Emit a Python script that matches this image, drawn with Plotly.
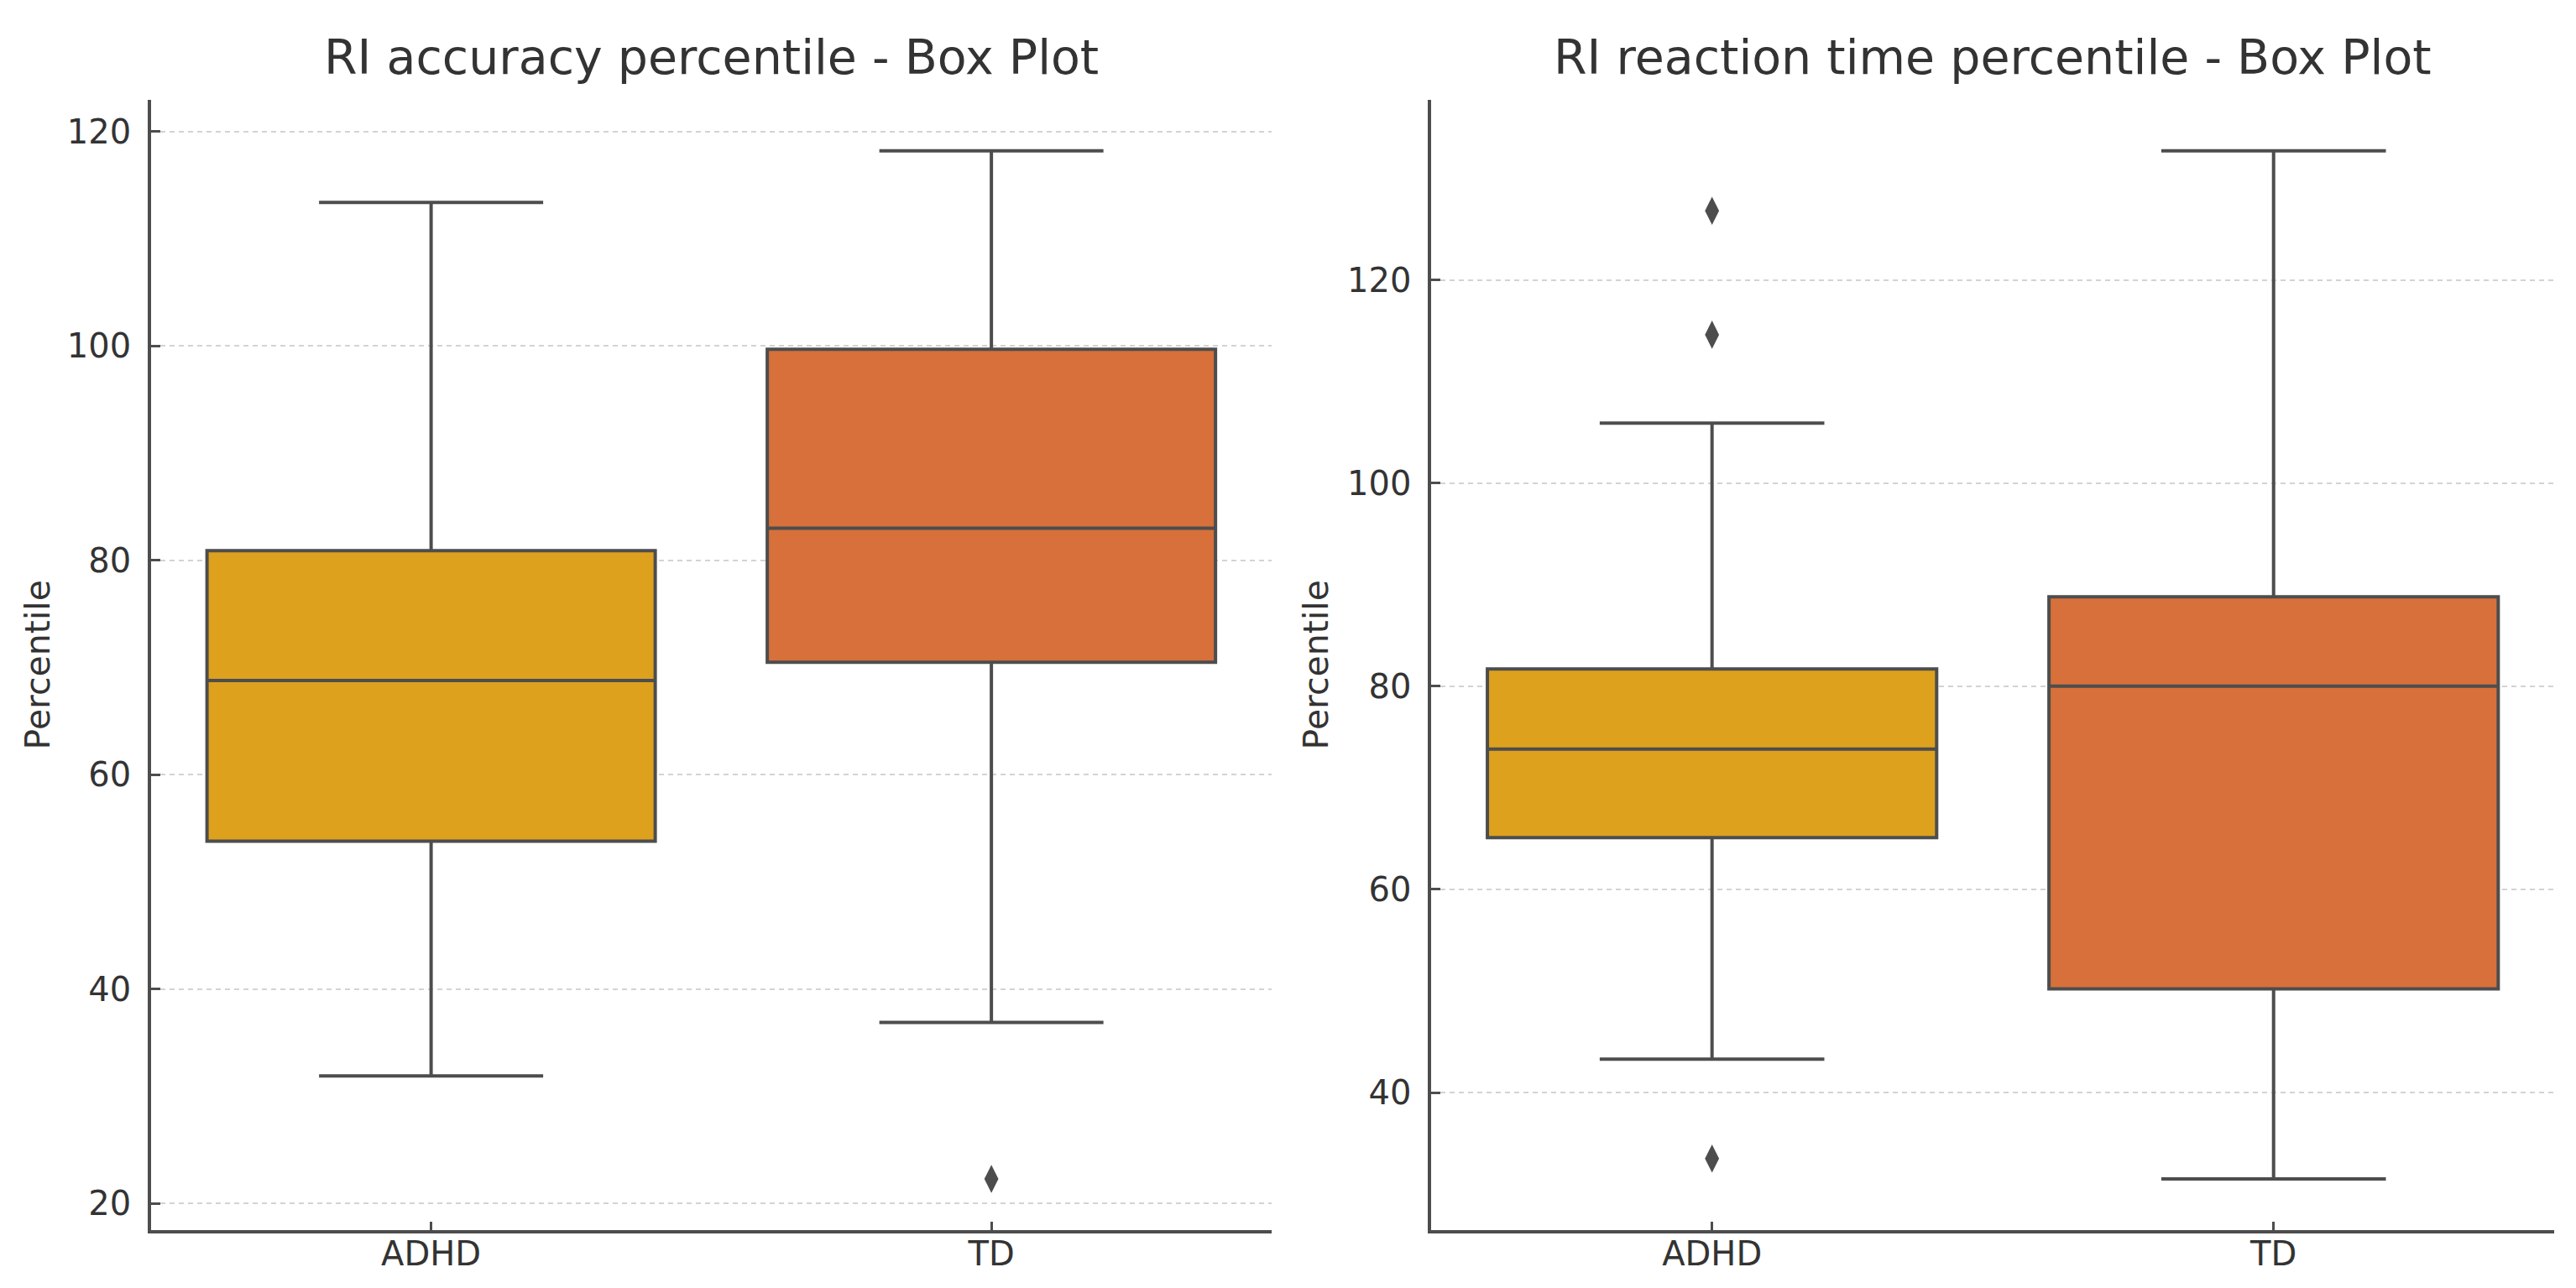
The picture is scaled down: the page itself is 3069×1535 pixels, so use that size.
import plotly.graph_objects as go

# groups on the x axis
groups = ["ADHD", "TD"]

# RI accuracy percentile, box stats
acc_q1 = [53.8, 70.5]
acc_median = [68.8, 83.0]
acc_q3 = [80.9, 99.7]
acc_low = [31.9, 36.9]
acc_high = [113.4, 118.2]
acc_out_group = ["TD"]
acc_out_value = [22.3]

# RI reaction time percentile
rt_q1 = [65.1, 50.2]
rt_median = [73.8, 80.0]
rt_q3 = [81.7, 88.8]
rt_low = [43.3, 31.5]
rt_high = [105.9, 132.7]
rt_out_group = ["ADHD", "ADHD", "ADHD"]
rt_out_value = [126.8, 114.6, 33.5]

box_colors = ["#DDA11E", "#D7703A"]
line_color = "#4d4d4d"
text_color = "#333333"
font_family = "DejaVu Sans"

fig = go.Figure()


def add_panel(q1, median, q3, low, high, out_group, out_value, xref, yref):
    for i, g in enumerate(groups):
        fig.add_trace(go.Box(
            x=[g], q1=[q1[i]], median=[median[i]], q3=[q3[i]],
            lowerfence=[low[i]], upperfence=[high[i]],
            width=0.8, whiskerwidth=0.5, boxpoints=False,
            fillcolor=box_colors[i], line=dict(color=line_color, width=4),
            xaxis=xref, yaxis=yref, showlegend=False,
        ))
    fig.add_trace(go.Scatter(
        x=out_group, y=out_value, mode="markers",
        marker=dict(symbol="diamond-tall", size=24, color=line_color),
        xaxis=xref, yaxis=yref, showlegend=False,
    ))


add_panel(acc_q1, acc_median, acc_q3, acc_low, acc_high, acc_out_group, acc_out_value, "x", "y")
add_panel(rt_q1, rt_median, rt_q3, rt_low, rt_high, rt_out_group, rt_out_value, "x2", "y2")

axis_common = dict(
    showline=True, linecolor=line_color, linewidth=3.5,
    ticks="inside", ticklen=11, tickwidth=2.5, tickcolor=line_color,
    tickfont=dict(family=font_family, size=40, color=text_color),
    zeroline=False, mirror=False,
)
xaxis_common = dict(axis_common, type="category", categoryorder="array",
                    categoryarray=groups, range=[-0.5, 1.5], showgrid=False,
                    ticklabelstandoff=-10)
yaxis_common = dict(axis_common, showgrid=True, gridcolor="#d3d3d3", gridwidth=1.5,
                    griddash="6px,5px", tickmode="linear", dtick=20,
                    ticklabelstandoff=12)

fig.update_layout(
    width=3069, height=1535,
    margin=dict(l=0, r=0, t=0, b=0),
    paper_bgcolor="white", plot_bgcolor="white",
    boxmode="overlay",
    font=dict(family=font_family, color=text_color),
    xaxis=dict(xaxis_common, domain=[0.056, 0.491], anchor="y"),
    yaxis=dict(yaxis_common, domain=[0.050, 0.928], anchor="x", range=[17.5, 123.0], tick0=20),
    xaxis2=dict(xaxis_common, domain=[0.553, 0.989], anchor="y2"),
    yaxis2=dict(yaxis_common, domain=[0.050, 0.928], anchor="x2", range=[26.44, 137.76], tick0=40),
    annotations=[
        dict(text="RI accuracy percentile - Box Plot", xref="paper", yref="paper",
             x=(0.056 + 0.491) / 2, y=0.928, xanchor="center", yanchor="bottom", yshift=16,
             showarrow=False, font=dict(size=57, family=font_family, color=text_color)),
        dict(text="RI reaction time percentile - Box Plot", xref="paper", yref="paper",
             x=(0.553 + 0.989) / 2, y=0.928, xanchor="center", yanchor="bottom", yshift=16,
             showarrow=False, font=dict(size=57, family=font_family, color=text_color)),
        dict(text="Percentile", xref="paper", yref="paper", x=37 / 3069, y=0.489,
             xanchor="center", yanchor="middle", textangle=-90, showarrow=False,
             font=dict(size=41, family=font_family, color=text_color)),
        dict(text="Percentile", xref="paper", yref="paper", x=1560 / 3069, y=0.489,
             xanchor="center", yanchor="middle", textangle=-90, showarrow=False,
             font=dict(size=41, family=font_family, color=text_color)),
    ],
)

fig.write_html("out.html")
